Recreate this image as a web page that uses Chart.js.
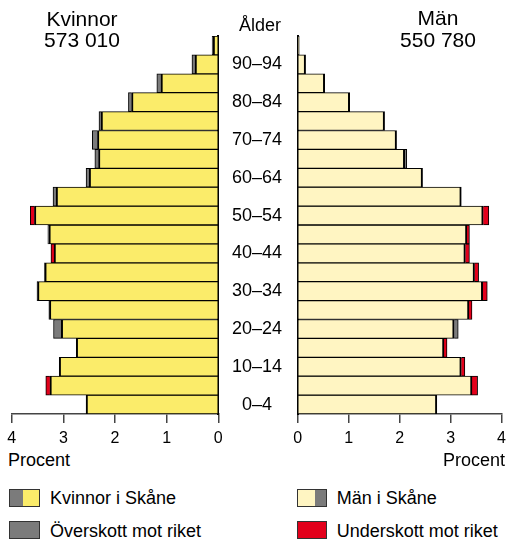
<!DOCTYPE html>
<html>
<head>
<meta charset="utf-8">
<script src="https://cdn.jsdelivr.net/npm/chart.js@4/dist/chart.umd.min.js"></script>
<style>
  html, body { margin: 0; padding: 0; background: #fff; }
  #wrap { position: relative; width: 512px; height: 540px; overflow: hidden; font-family: "Liberation Sans", Arial, Helvetica, sans-serif; color: #000; }
  canvas { position: absolute; top: 0; }
  .t { position: absolute; white-space: nowrap; }
  .title { font-size: 21px; line-height: 21px; text-align: center; width: 140px; }
  .lab { font-size: 18px; line-height: 18px; }
  .sw { position: absolute; box-sizing: border-box; height: 18px; border: 1px solid #333; }
</style>
</head>
<body>
<div id="wrap">
  <canvas id="cL" width="222" height="450" style="left:0px"></canvas>
  <canvas id="cR" width="294" height="450" style="left:218px"></canvas>

  <div class="t title" style="left:12px;top:7.7px">Kvinnor</div>
  <div class="t title" style="left:12px;top:28.7px">573 010</div>
  <div class="t title" style="left:368px;top:7.2px">Män</div>
  <div class="t title" style="left:368px;top:28.9px">550 780</div>
  <div class="t lab" style="left:210px;width:100px;text-align:center;top:15.8px">Ålder</div>

  <div class="t lab" style="left:8px;top:450.8px">Procent</div>
  <div class="t lab" style="right:7px;top:450.8px">Procent</div>

  <div class="sw" style="left:9px;top:488.5px;width:31px;background:linear-gradient(to right,#7b7b7b 0,#7b7b7b 13px,#fbec6a 13px)"></div>
  <div class="t lab" style="left:50px;top:488.8px">Kvinnor i Skåne</div>
  <div class="sw" style="left:9px;top:521px;width:31px;background:#7b7b7b"></div>
  <div class="t lab" style="left:50px;top:521.8px">Överskott mot riket</div>

  <div class="sw" style="left:297px;top:488.5px;width:30px;background:linear-gradient(to right,#fff5c2 0,#fff5c2 17px,#7b7b7b 17px)"></div>
  <div class="t lab" style="left:336.7px;top:488.8px">Män i Skåne</div>
  <div class="sw" style="left:297px;top:521px;width:30px;background:#e3001b"></div>
  <div class="t lab" style="left:336.7px;top:521.8px">Underskott mot riket</div>
</div>

<script>
// Age groups (bottom to top)
const ages = ['0–4','5–9','10–14','15–19','20–24','25–29','30–34','35–39','40–44','45–49',
              '50–54','55–59','60–64','65–69','70–74','75–79','80–84','85–89','90–94','95–'];

// Percent of population, Skåne vs. whole country (riket)
const kvinnorSkane = [2.56,3.26,3.08,2.75,3.19,3.28,3.51,3.37,3.18,3.30,
                      3.56,3.20,2.56,2.39,2.44,2.31,1.74,1.19,0.51,0.12];
const kvinnorRiket = [2.56,3.34,3.08,2.75,3.04,3.27,3.50,3.36,3.24,3.28,
                      3.64,3.14,2.50,2.32,2.34,2.27,1.68,1.11,0.45,0.10];
const manSkane     = [2.73,3.42,3.21,2.87,3.15,3.36,3.63,3.47,3.29,3.32,
                      3.64,3.21,2.45,2.14,1.94,1.705,1.02,0.53,0.155,0.03];
const manRiket     = [2.73,3.53,3.28,2.93,3.07,3.42,3.72,3.55,3.37,3.37,
                      3.75,3.21,2.45,2.10,1.94,1.705,1.02,0.53,0.155,0.03];

const xTicks = [0,1,2,3,4];

const YELLOW = '#fbec6a', LIGHT = '#fff5c2', GREY = '#7b7b7b', RED = '#e3001b';

function split(skane, riket) {
  const base = skane.map((s, i) => Math.min(s, riket[i]));
  const over = skane.map((s, i) => s > riket[i] ? +(s - riket[i]).toFixed(3) : null);
  const under = skane.map((s, i) => riket[i] > s ? +(riket[i] - s).toFixed(3) : null);
  return {base, over, under};
}

function datasets(skane, riket, fill, label) {
  const d = split(skane, riket);
  const common = {borderColor: '#000', borderSkipped: 'start', barPercentage: 1, categoryPercentage: 1};
  return [
    Object.assign({label: label, data: d.base, backgroundColor: fill,
      borderWidth: {top: 1, bottom: 1, left: 2, right: 2}}, common),
    Object.assign({label: 'Överskott mot riket', data: d.over, backgroundColor: GREY,
      borderWidth: {top: 1, bottom: 1, left: 1, right: 1}}, common),
    Object.assign({label: 'Underskott mot riket', data: d.under, backgroundColor: RED,
      borderWidth: {top: 1, bottom: 1, left: 1, right: 1}}, common)
  ];
}

Chart.defaults.font.family = '"Liberation Sans", Arial, Helvetica, sans-serif';
Chart.defaults.color = '#000';

function xScale(reverse) {
  return {
    type: 'linear', stacked: true, min: 0, max: 4, reverse: reverse,
    afterBuildTicks: s => { s.ticks = xTicks.map(v => ({value: v})); },
    ticks: {font: {size: 16}, color: '#000', padding: 6, maxRotation: 0},
    grid: {display: true, drawOnChartArea: false, drawTicks: true, tickLength: 9, color: '#444', lineWidth: 1.5},
    border: {display: true, color: '#444', width: 1.5},
    afterFit: s => { s.height = 36; }
  };
}

new Chart(document.getElementById('cL'), {
  type: 'bar',
  data: {labels: ages, datasets: datasets(kvinnorSkane, kvinnorRiket, YELLOW, 'Kvinnor i Skåne')},
  options: {
    indexAxis: 'y', responsive: false, animation: false,
    layout: {padding: {top: 36, left: 11.7, right: 3.7, bottom: 0}},
    plugins: {legend: {display: false}, tooltip: {enabled: false}},
    scales: {
      x: xScale(true),
      y: {
        type: 'category', stacked: true, reverse: true, position: 'right',
        ticks: {display: false},
        grid: {display: false, drawTicks: false},
        border: {display: true, color: '#000', width: 2},
        afterFit: s => { s.width = 0; }
      }
    }
  }
});

new Chart(document.getElementById('cR'), {
  type: 'bar',
  data: {labels: ages, datasets: datasets(manSkane, manRiket, LIGHT, 'Män i Skåne')},
  options: {
    indexAxis: 'y', responsive: false, animation: false,
    layout: {padding: {top: 36, left: 0, right: 8, bottom: 0}},
    plugins: {legend: {display: false}, tooltip: {enabled: false}},
    scales: {
      x: xScale(false),
      y: {
        type: 'category', stacked: true, reverse: true, position: 'left',
        ticks: {
          autoSkip: false, font: {size: 18}, color: '#000', crossAlign: 'center', padding: 15.7,
          callback: (v, i) => (i % 2 === 0 ? ages[i] : '')
        },
        grid: {display: false, drawTicks: false},
        border: {display: true, color: '#000', width: 2},
        afterFit: s => { s.width = 79.7; }
      }
    }
  }
});
</script>
</body>
</html>
